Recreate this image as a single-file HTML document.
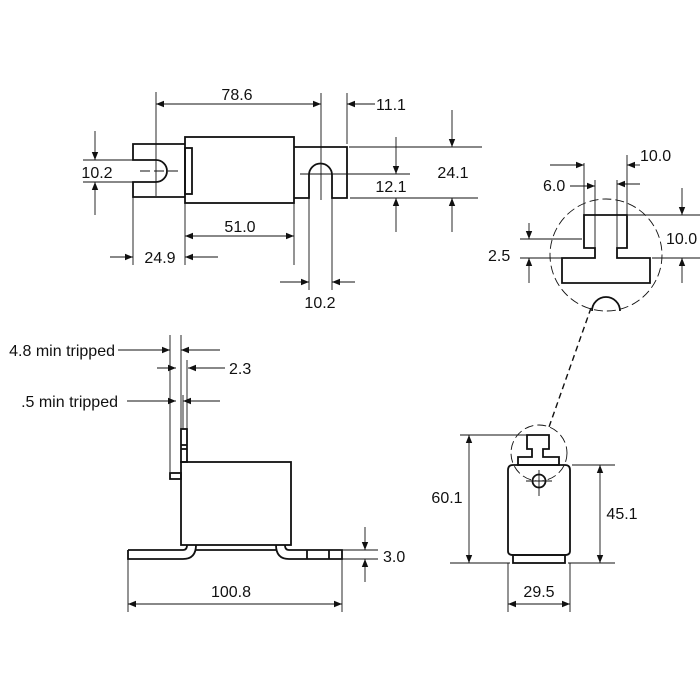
<!DOCTYPE html>
<html><head><meta charset="utf-8"><style>
html,body{margin:0;padding:0;background:#fff}
svg{display:block}
text{font-family:"Liberation Sans",Arial,sans-serif;font-size:16px;fill:#111}
</style></head><body>
<svg width="700" height="700" viewBox="0 0 700 700" xmlns="http://www.w3.org/2000/svg">
<defs>
<marker id="a" viewBox="0 0 10 10" refX="10" refY="5" markerWidth="8" markerHeight="8" orient="auto-start-reverse" markerUnits="userSpaceOnUse"><path d="M0,1 L10,5 L0,9 z" fill="#111"/></marker>
</defs>
<g stroke="#111" fill="none">
<g stroke-width="1.8">
<path d="M185,144 H133 V160 H156 A11,11 0 0 1 156,182 H133 V197 H185"/>
<rect x="185" y="137" width="109" height="66"/>
<rect x="185" y="148" width="7" height="46"/>
<path d="M294,147 H347 V198 H332 V175 A11.5,11.5 0 0 0 309,175 V198 H294"/>
</g>
<g stroke-width="0.9">
<line x1="140" y1="171" x2="182" y2="171" stroke-dasharray="10,4"/>
<line x1="300" y1="174" x2="410" y2="174"/>
<line x1="156" y1="92" x2="156" y2="196"/>
<line x1="321" y1="93" x2="321" y2="200"/>
<line x1="347" y1="93" x2="347" y2="144"/>
<line x1="156" y1="104" x2="321" y2="104" marker-start="url(#a)" marker-end="url(#a)"/>
<line x1="375" y1="104" x2="347" y2="104" marker-end="url(#a)"/>
<line x1="349" y1="147" x2="482" y2="147"/>
<line x1="350" y1="198" x2="478" y2="198"/>
<line x1="452" y1="110" x2="452" y2="147" marker-end="url(#a)"/>
<line x1="452" y1="232" x2="452" y2="198" marker-end="url(#a)"/>
<line x1="396" y1="137" x2="396" y2="174" marker-end="url(#a)"/>
<line x1="396" y1="232" x2="396" y2="198" marker-end="url(#a)"/>
<line x1="83" y1="160" x2="133" y2="160"/>
<line x1="83" y1="182" x2="133" y2="182"/>
<line x1="95" y1="131" x2="95" y2="160" marker-end="url(#a)"/>
<line x1="95" y1="215" x2="95" y2="182" marker-end="url(#a)"/>
<line x1="185" y1="203" x2="185" y2="265"/>
<line x1="294" y1="203" x2="294" y2="265"/>
<line x1="185" y1="236" x2="294" y2="236" marker-start="url(#a)" marker-end="url(#a)"/>
<line x1="133" y1="197" x2="133" y2="265"/>
<line x1="110" y1="257" x2="133" y2="257" marker-end="url(#a)"/>
<line x1="218" y1="257" x2="185" y2="257" marker-end="url(#a)"/>
<line x1="309" y1="198" x2="309" y2="290"/>
<line x1="332" y1="198" x2="332" y2="290"/>
<line x1="280" y1="282" x2="309" y2="282" marker-end="url(#a)"/>
<line x1="355" y1="282" x2="332" y2="282" marker-end="url(#a)"/>
</g>
<g stroke-width="1.8">
<rect x="181" y="462" width="110" height="83"/>
<rect x="181" y="429" width="6" height="33"/>
<line x1="181" y1="445" x2="187" y2="445"/>
<line x1="181" y1="449" x2="187" y2="449"/>
<rect x="170" y="473" width="11" height="6"/>
<path d="M128,550 H183 Q187,550 187,545 M128,550 V559 H183 Q196,559 196,545 M196,550 H276 M276,545 Q276,559 289,559 H342 V550 H289 Q285,550 285,545"/>
<line x1="307" y1="550" x2="307" y2="559"/>
<line x1="329" y1="550" x2="329" y2="559"/>
</g>
<g stroke-width="0.9">
<line x1="170" y1="335" x2="170" y2="472"/>
<line x1="181" y1="335" x2="181" y2="429"/>
<line x1="187" y1="360" x2="187" y2="429"/>
<line x1="183" y1="395" x2="183" y2="429"/>
<line x1="118" y1="350" x2="170" y2="350" marker-end="url(#a)"/>
<line x1="220" y1="350" x2="181" y2="350" marker-end="url(#a)"/>
<line x1="157" y1="368" x2="176" y2="368" marker-end="url(#a)"/>
<line x1="225" y1="368" x2="188" y2="368" marker-end="url(#a)"/>
<line x1="127" y1="401" x2="176" y2="401" marker-end="url(#a)"/>
<line x1="220" y1="401" x2="183" y2="401" marker-end="url(#a)"/>
<line x1="342" y1="550" x2="378" y2="550"/>
<line x1="342" y1="559" x2="378" y2="559"/>
<line x1="365" y1="527" x2="365" y2="550" marker-end="url(#a)"/>
<line x1="365" y1="582" x2="365" y2="559" marker-end="url(#a)"/>
<line x1="128" y1="559" x2="128" y2="612"/>
<line x1="342" y1="559" x2="342" y2="612"/>
<line x1="128" y1="604" x2="342" y2="604" marker-start="url(#a)" marker-end="url(#a)"/>
</g>
<circle cx="606" cy="255" r="56" stroke-width="0.9" stroke-dasharray="9,4"/>
<circle cx="539" cy="453" r="28" stroke-width="0.9" stroke-dasharray="9,4"/>
<line x1="591" y1="308" x2="549" y2="427" stroke-width="1.4" stroke-dasharray="6,4"/>
<g stroke-width="1.8">
<path d="M584,215 H627 V248 H617 V258 H650 V283 H562 V258 H595 V248 H584 Z"/>
<path d="M592,311 A14,14 0 0 1 620,311"/>
<path d="M527,435 H549 V449 H543 V457 H559 V465 H518 V457 H532 V449 H527 Z"/>
<path d="M513,465 H565 Q570,465 570,470 V551 Q570,555 565,555 H513 Q508,555 508,551 V470 Q508,465 513,465 Z"/>
<rect x="513" y="555" width="52" height="8"/>
<circle cx="539" cy="481" r="6.5"/>
</g>
<g stroke-width="0.9">
<line x1="526" y1="481" x2="552" y2="481"/>
<line x1="539" y1="470" x2="539" y2="496"/>
<line x1="584" y1="163" x2="584" y2="215"/>
<line x1="627" y1="155" x2="627" y2="215"/>
<line x1="595" y1="180" x2="595" y2="248"/>
<line x1="617" y1="180" x2="617" y2="248"/>
<line x1="550" y1="165" x2="584" y2="165" marker-end="url(#a)"/>
<line x1="640" y1="165" x2="627" y2="165" marker-end="url(#a)"/>
<line x1="570" y1="186" x2="595" y2="186" marker-end="url(#a)"/>
<line x1="640" y1="184" x2="617" y2="184" marker-end="url(#a)"/>
<line x1="628" y1="215" x2="700" y2="215"/>
<line x1="652" y1="258" x2="700" y2="258"/>
<line x1="682" y1="188" x2="682" y2="215" marker-end="url(#a)"/>
<line x1="682" y1="283" x2="682" y2="258" marker-end="url(#a)"/>
<line x1="520" y1="239" x2="582" y2="239"/>
<line x1="520" y1="258" x2="562" y2="258"/>
<line x1="529" y1="223" x2="529" y2="239" marker-end="url(#a)"/>
<line x1="529" y1="283" x2="529" y2="258" marker-end="url(#a)"/>
<line x1="460" y1="435" x2="527" y2="435"/>
<line x1="450" y1="563" x2="510" y2="563"/>
<line x1="469" y1="435" x2="469" y2="563" marker-start="url(#a)" marker-end="url(#a)"/>
<line x1="572" y1="465" x2="615" y2="465"/>
<line x1="568" y1="563" x2="615" y2="563"/>
<line x1="600" y1="465" x2="600" y2="563" marker-start="url(#a)" marker-end="url(#a)"/>
<line x1="508" y1="563" x2="508" y2="612"/>
<line x1="570" y1="563" x2="570" y2="612"/>
<line x1="508" y1="604" x2="570" y2="604" marker-start="url(#a)" marker-end="url(#a)"/>
</g>
</g>
<g>
<text x="237" y="100" text-anchor="middle">78.6</text>
<text x="376" y="110">11.1</text>
<text x="453" y="178" text-anchor="middle">24.1</text>
<text x="391" y="192" text-anchor="middle">12.1</text>
<text x="97" y="178" text-anchor="middle">10.2</text>
<text x="240" y="232" text-anchor="middle">51.0</text>
<text x="160" y="263" text-anchor="middle">24.9</text>
<text x="320" y="308" text-anchor="middle">10.2</text>
<text x="115" y="356" text-anchor="end">4.8 min tripped</text>
<text x="229" y="374">2.3</text>
<text x="118" y="407" text-anchor="end">.5 min tripped</text>
<text x="383" y="562">3.0</text>
<text x="231" y="597" text-anchor="middle">100.8</text>
<text x="640" y="161">10.0</text>
<text x="543" y="191">6.0</text>
<text x="666" y="244">10.0</text>
<text x="488" y="261">2.5</text>
<text x="447" y="503" text-anchor="middle">60.1</text>
<text x="622" y="519" text-anchor="middle">45.1</text>
<text x="539" y="597" text-anchor="middle">29.5</text>
</g>
</svg>
</body></html>
